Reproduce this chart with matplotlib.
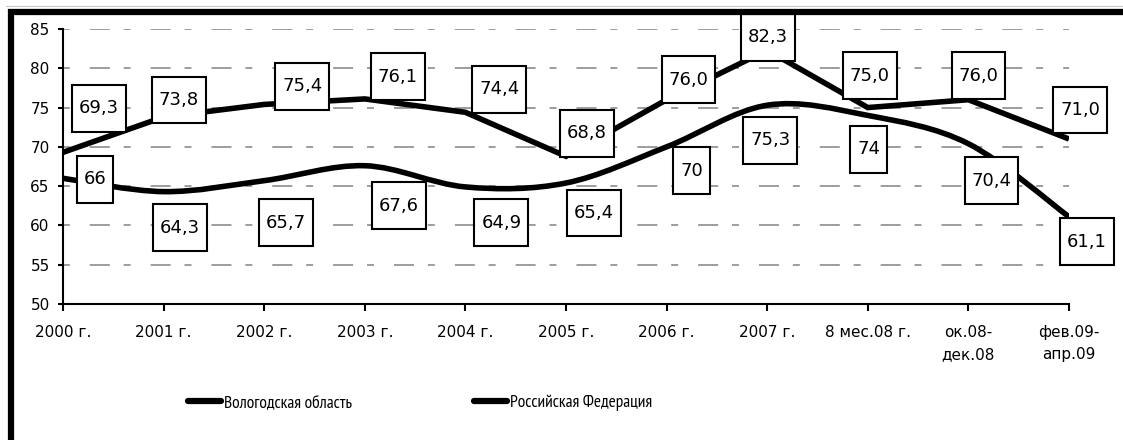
import matplotlib
matplotlib.use('Agg')
import matplotlib.pyplot as plt
import numpy as np
from matplotlib.path import Path
from matplotlib.patches import PathPatch
from matplotlib.lines import Line2D

# data
periods = ['2000 г.', '2001 г.', '2002 г.', '2003 г.', '2004 г.', '2005 г.',
           '2006 г.', '2007 г.', '8 мес.08 г.', 'ок.08-\nдек.08', 'фев.09-\nапр.09']
vologda = [69.3, 73.8, 75.4, 76.1, 74.4, 68.8, 76.0, 82.3, 75.0, 76.0, 71.0]
russia = [66, 64.3, 65.7, 67.6, 64.9, 65.4, 70, 75.3, 74, 70.4, 61.1]
series_names = ['Вологодская область', 'Российская Федерация']

# label box offsets from the point (pixels)
vologda_offsets = [(36, 44), (15, 17), (38, 18), (33, 22), (34, 23), (21, 23),
                   (22, 20), (1, 13), (2, 32), (10, 24), (11, 29)]
russia_offsets = [(32, -1), (16, -36), (22, -42), (34, -40), (36, -36), (28, -30),
                  (25, -24), (3, -35), (1, -34), (23, -37), (18, -25)]

plt.rcParams['font.family'] = ['DejaVu Sans']
plt.rcParams['lines.scale_dashes'] = False


def label_box(x0, y0, width, height, mutation_size):
	# white box, taller than the text like the excel data labels
	hp = 0.38 * mutation_size
	vp = 0.8 * mutation_size
	return Path.unit_rectangle().transformed(
		matplotlib.transforms.Affine2D().scale(width + 2 * hp, height + 2 * vp).translate(x0 - hp, y0 - vp))


def smooth_path(xs, ys):
	pts = np.column_stack([xs, ys]).astype(float)
	ext = np.vstack([pts[0], pts, pts[-1]])
	verts = [pts[0]]
	codes = [Path.MOVETO]
	for i in range(len(pts) - 1):
		p0, p1, p2, p3 = ext[i], ext[i + 1], ext[i + 2], ext[i + 3]
		verts += [p1 + (p2 - p0) / 6, p2 - (p3 - p1) / 6, p2]
		codes += [Path.CURVE4] * 3
	return Path(verts, codes)


fig = plt.figure(figsize=(11.23, 4.4), dpi=100)
ax = fig.add_axes([63 / 1123, 136 / 440, 1006 / 1123, 275 / 440])

x = np.arange(len(periods))

ax.plot(x, vologda, color='black', lw=4, solid_joinstyle='miter', solid_capstyle='butt', zorder=3)
ax.add_patch(PathPatch(smooth_path(x, russia), fill=False, ec='black', lw=4,
                       capstyle='butt', joinstyle='round', zorder=3))

for i, v in enumerate(vologda):
	ax.annotate('{:.1f}'.format(v).replace('.', ','), xy=(i, v), xytext=vologda_offsets[i],
				textcoords='offset pixels', ha='center', va='center', fontsize=13, zorder=5,
				bbox=dict(boxstyle=label_box, fc='white', ec='black', lw=1.5))
for i, v in enumerate(russia):
	ax.annotate('{:g}'.format(v).replace('.', ','), xy=(i, v), xytext=russia_offsets[i],
				textcoords='offset pixels', ha='center', va='center', fontsize=13, zorder=5,
				bbox=dict(boxstyle=label_box, fc='white', ec='black', lw=1.5))

ax.set_xlim(0, len(periods) - 1)
ax.set_ylim(50, 85)
ax.set_yticks(np.arange(50, 86, 5))
ax.set_xticks(x)
ax.set_xticklabels(periods, linespacing=1.6)
ax.tick_params(axis='y', length=3.6, width=1.5, pad=6, labelsize=11)
ax.tick_params(axis='x', length=5, width=1.5, pad=10, labelsize=11, direction='out')
ax.yaxis.grid(True, color='#8c8c8c', lw=1.2, linestyle=(24.5, (14.4, 10, 5, 14.4)))
ax.set_axisbelow(True)
ax.spines['right'].set_visible(False)
ax.spines['top'].set_visible(False)
ax.spines['left'].set_linewidth(1.5)
ax.spines['bottom'].set_linewidth(1.5)

handles = [Line2D([], [], color='black', lw=4.5, solid_capstyle='round'),
           Line2D([], [], color='black', lw=4.5, solid_capstyle='round')]
fig.legend(handles, series_names, loc='center left', bbox_to_anchor=(188 / 1123, 37 / 440),
		   ncol=2, frameon=False, handlelength=1.9, handletextpad=0.2,
		   columnspacing=7.0, borderpad=0, borderaxespad=0,
		   prop={'family': ['PT Sans Narrow', 'Roboto Condensed', 'Liberation Sans'], 'size': 12.5})

# thick frame on the left and top edge
fig.add_artist(Line2D([10.5 / 1123, 10.5 / 1123], [-0.1, 1 - 9 / 440], color='black', lw=4.5,
					  transform=fig.transFigure, solid_capstyle='butt'))
fig.add_artist(Line2D([8 / 1123, 1.1], [1 - 12 / 440, 1 - 12 / 440], color='black', lw=4.5,
					  transform=fig.transFigure, solid_capstyle='butt'))
fig.add_artist(Line2D([6 / 1123, 1.1], [1 - 6 / 440, 1 - 6 / 440], color='#c8c8c8', lw=0.8,
					  transform=fig.transFigure))

fig.savefig('out.png', dpi=100)
